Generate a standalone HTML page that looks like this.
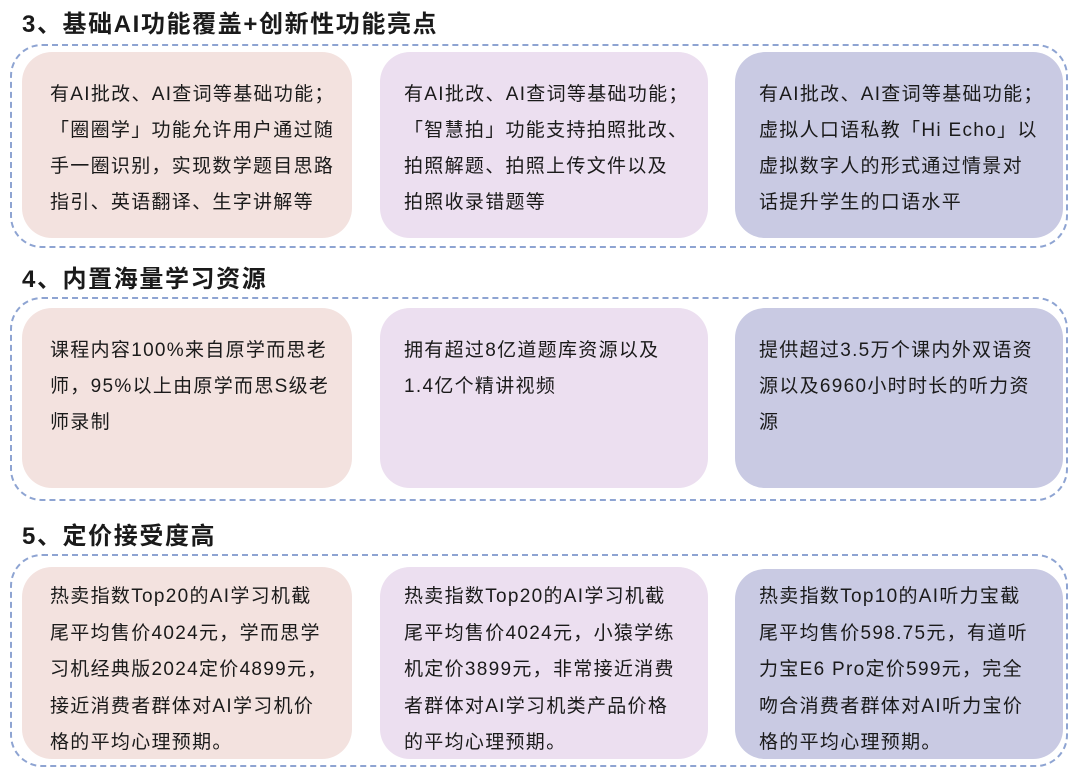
<!DOCTYPE html>
<html><head><meta charset="utf-8"><style>
*{margin:0;padding:0;box-sizing:border-box}
body{width:1080px;height:772px;background:#fff;position:relative;overflow:hidden;font-family:"Liberation Sans","Noto Sans CJK SC",sans-serif;color:#1a1a1a}
.h{position:absolute;left:22px;font-size:24px;font-weight:bold;line-height:30px;letter-spacing:1.6px}
.box{position:absolute;left:10px;width:1058px;border:2px dashed #8ea4d2;border-radius:32px}
.c{position:absolute;border-radius:30px;padding-left:28px;font-size:19px;letter-spacing:1.3px;line-height:36px;white-space:nowrap}
.a{background:#f3e2df}.b{background:#ecdff0}.d{background:#c9cae3}
</style></head><body>
<div class="h" style="top:10px">3、基础AI功能覆盖+创新性功能亮点</div>
<div class="box" style="top:44px;height:204px"></div>
<div class="c a" style="left:22px;top:52px;width:330px;height:186px;padding-top:25px">有AI批改、AI查词等基础功能；<br>「圈圈学」功能允许用户通过随<br>手一圈识别，实现数学题目思路<br>指引、英语翻译、生字讲解等</div>
<div class="c b" style="left:380px;top:52px;width:328px;height:186px;padding-top:25px;padding-left:24px">有AI批改、AI查词等基础功能；<br>「智慧拍」功能支持拍照批改、<br>拍照解题、拍照上传文件以及<br>拍照收录错题等</div>
<div class="c d" style="left:735px;top:52px;width:328px;height:186px;padding-top:25px;padding-left:24px">有AI批改、AI查词等基础功能；<br>虚拟人口语私教「Hi Echo」以<br>虚拟数字人的形式通过情景对<br>话提升学生的口语水平</div>

<div class="h" style="top:265px">4、内置海量学习资源</div>
<div class="box" style="top:297px;height:204px"></div>
<div class="c a" style="left:22px;top:308px;width:330px;height:180px;padding-top:25px">课程内容100%来自原学而思老<br>师，95%以上由原学而思S级老<br>师录制</div>
<div class="c b" style="left:380px;top:308px;width:328px;height:180px;padding-top:25px;padding-left:24px">拥有超过8亿道题库资源以及<br>1.4亿个精讲视频</div>
<div class="c d" style="left:735px;top:308px;width:328px;height:180px;padding-top:25px;padding-left:24px">提供超过3.5万个课内外双语资<br>源以及6960小时时长的听力资<br>源</div>

<div class="h" style="top:522px">5、定价接受度高</div>
<div class="box" style="top:554px;height:213px"></div>
<div class="c a" style="left:22px;top:567px;width:330px;height:192px;padding-top:12px;line-height:36.6px">热卖指数Top20的AI学习机截<br>尾平均售价4024元，学而思学<br>习机经典版2024定价4899元，<br>接近消费者群体对AI学习机价<br>格的平均心理预期。</div>
<div class="c b" style="left:380px;top:567px;width:328px;height:192px;padding-top:12px;padding-left:24px;line-height:36.6px">热卖指数Top20的AI学习机截<br>尾平均售价4024元，小猿学练<br>机定价3899元，非常接近消费<br>者群体对AI学习机类产品价格<br>的平均心理预期。</div>
<div class="c d" style="left:735px;top:569px;width:328px;height:190px;padding-top:10px;padding-left:24px;line-height:36.6px">热卖指数Top10的AI听力宝截<br>尾平均售价598.75元，有道听<br>力宝E6 Pro定价599元，完全<br>吻合消费者群体对AI听力宝价<br>格的平均心理预期。</div>
</body></html>
